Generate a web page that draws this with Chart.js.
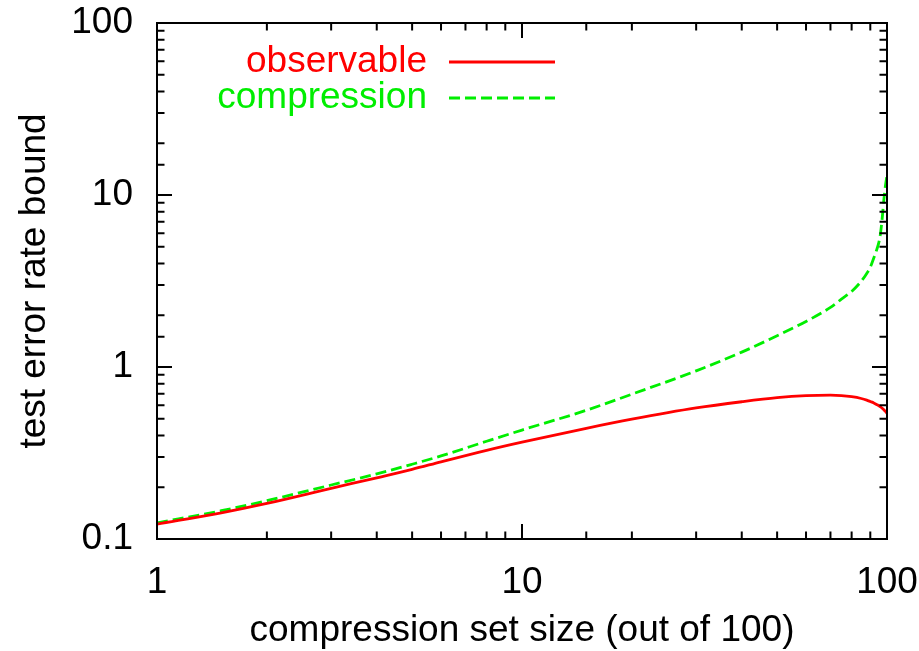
<!DOCTYPE html>
<html>
<head>
<meta charset="utf-8">
<script src="https://cdn.jsdelivr.net/npm/chart.js@4/dist/chart.umd.min.js"></script>
<style>
  html, body { margin: 0; padding: 0; background: #fff; }
  #wrap { width: 919px; height: 651px; }
</style>
</head>
<body>
<div id="wrap"><canvas id="boundChart" width="919" height="651"></canvas></div>
<script>
// compression set size (out of 100)
const sizes = [1, 1.5, 2, 3, 4, 5, 6, 8, 10, 15, 20, 30, 40, 50, 60, 70, 75, 80, 85, 88, 90, 92, 94, 95, 96, 97, 98, 99, 100];
// test error rate bounds
const observable = [0.122, 0.142, 0.161, 0.197, 0.227, 0.254, 0.281, 0.328, 0.366, 0.44, 0.497, 0.578, 0.628, 0.663, 0.681, 0.686, 0.682, 0.672, 0.656, 0.642, 0.630, 0.618, 0.603, 0.595, 0.586, 0.576, 0.565, 0.552, 0.538];
const compression = [0.124, 0.146, 0.167, 0.206, 0.239, 0.272, 0.304, 0.37, 0.43, 0.56, 0.695, 0.95, 1.22, 1.52, 1.84, 2.22, 2.48, 2.75, 3.15, 3.5, 3.8, 4.3, 4.9, 5.3, 6.0, 7.3, 9.3, 11.3, 13.0];
const xTickLabels = [1, 10, 100];
const yTickLabels = [0.1, 1, 10, 100];

const FONT = "'Liberation Sans', Arial, Helvetica, sans-serif";

const toPoints = (ys) => sizes.map((x, i) => ({ x: x, y: ys[i] }));

// gnuplot style: box around plot, inward ticks on all four sides, key top-left
const gnuplotFrame = {
    id: "gnuplotFrame",
    afterDatasetsDraw(chart) {
        const { ctx, chartArea: a, scales } = chart;
        ctx.save();
        ctx.strokeStyle = "#000";
        ctx.lineWidth = 2;
        ctx.strokeRect(a.left, a.top, a.right - a.left, a.bottom - a.top);

        const isMajor = (v) => Math.abs(Math.log10(v) - Math.round(Math.log10(v))) < 1e-6;
        ctx.beginPath();
        scales.x.ticks.forEach(t => {
            const px = scales.x.getPixelForValue(t.value);
            const len = isMajor(t.value) ? 15 : 7.5;
            ctx.moveTo(px, a.bottom); ctx.lineTo(px, a.bottom - len);
            ctx.moveTo(px, a.top); ctx.lineTo(px, a.top + len);
        });
        scales.y.ticks.forEach(t => {
            const py = scales.y.getPixelForValue(t.value);
            const len = isMajor(t.value) ? 15 : 7.5;
            ctx.moveTo(a.left, py); ctx.lineTo(a.left + len, py);
            ctx.moveTo(a.right, py); ctx.lineTo(a.right - len, py);
        });
        ctx.stroke();

        // key
        ctx.font = "37px " + FONT;
        ctx.textAlign = "right";
        ctx.textBaseline = "middle";
        const keyY = [62, 98];
        chart.data.datasets.forEach((ds, i) => {
            const y = keyY[i];
            ctx.fillStyle = ds.borderColor;
            ctx.fillText(ds.label, 427, y);
            ctx.strokeStyle = ds.borderColor;
            ctx.lineWidth = ds.borderWidth;
            ctx.setLineDash(ds.borderDash || []);
            ctx.beginPath();
            ctx.moveTo(449, y);
            ctx.lineTo(555, y);
            ctx.stroke();
        });
        ctx.restore();
    }
};

new Chart(document.getElementById("boundChart").getContext("2d"), {
    type: "line",
    data: {
        datasets: [
            {
                label: "observable",
                data: toPoints(observable),
                borderColor: "#ff0000",
                backgroundColor: "transparent",
                borderWidth: 2.8,
                pointRadius: 0,
                cubicInterpolationMode: "monotone"
            },
            {
                label: "compression",
                data: toPoints(compression),
                borderColor: "#00ee00",
                backgroundColor: "transparent",
                borderWidth: 2.8,
                borderDash: [11, 5],
                pointRadius: 0,
                cubicInterpolationMode: "monotone"
            }
        ]
    },
    options: {
        responsive: false,
        animation: false,
        events: [],
        layout: { padding: { top: 23, right: 32, left: 0, bottom: 0 } },
        plugins: {
            legend: { display: false },
            tooltip: { enabled: false }
        },
        scales: {
            x: {
                type: "logarithmic",
                min: 1,
                max: 100,
                grid: { display: false },
                border: { display: false },
                afterFit: (s) => { s.height = 112; s.paddingLeft = 0; s.paddingRight = 0; },
                ticks: {
                    color: "#000",
                    padding: 14,
                    autoSkip: false,
                    maxRotation: 0,
                    font: { family: FONT, size: 37 },
                    callback: (v) => xTickLabels.includes(v) ? String(v) : ""
                },
                title: {
                    display: true,
                    text: "compression set size (out of 100)",
                    color: "#000",
                    font: { family: FONT, size: 37, lineHeight: 1 },
                    padding: { top: 0, bottom: 2 }
                }
            },
            y: {
                type: "logarithmic",
                min: 0.1,
                max: 100,
                grid: { display: false },
                border: { display: false },
                afterFit: (s) => { s.width = 157; s.paddingTop = 0; s.paddingBottom = 0; },
                ticks: {
                    color: "#000",
                    padding: 16,
                    autoSkip: false,
                    font: { family: FONT, size: 37 },
                    callback: (v) => yTickLabels.includes(v) ? String(v) : ""
                },
                title: {
                    display: true,
                    text: "test error rate bound",
                    color: "#000",
                    font: { family: FONT, size: 37, lineHeight: 1.2 },
                    padding: { top: 13, bottom: 0 }
                }
            }
        }
    },
    plugins: [gnuplotFrame]
});
</script>
</body>
</html>
